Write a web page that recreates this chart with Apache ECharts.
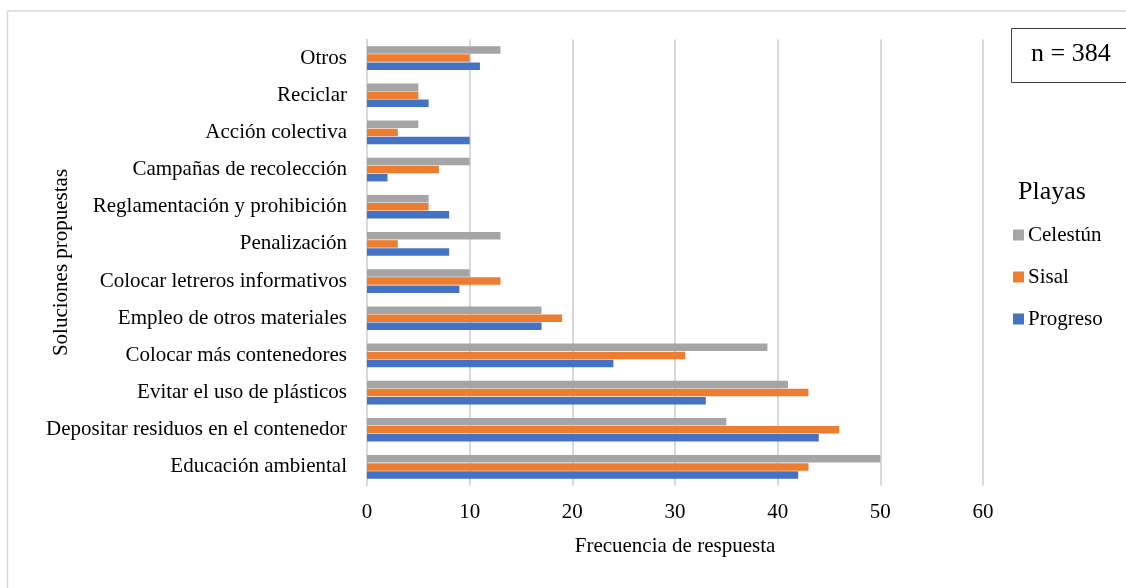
<!DOCTYPE html>
<html>
<head>
<meta charset="utf-8">
<script src="https://cdn.jsdelivr.net/npm/echarts@6/dist/echarts.min.js"></script>
<style>
  html, body { margin: 0; padding: 0; background: #ffffff; }
  #chart { width: 1126px; height: 588px; }
</style>
</head>
<body>
<div id="chart"></div>
<script>
// Proposed solutions, listed bottom to top on the category axis
const categories = [
  'Educación ambiental',
  'Depositar residuos en el contenedor',
  'Evitar el uso de plásticos',
  'Colocar más contenedores',
  'Empleo de otros materiales',
  'Colocar letreros informativos',
  'Penalización',
  'Reglamentación y prohibición',
  'Campañas de recolección',
  'Acción colectiva',
  'Reciclar',
  'Otros'
];

// Response counts per beach, same order as categories
const progreso = [42, 44, 33, 24, 17, 9, 8, 8, 2, 10, 6, 11];
const sisal    = [43, 46, 43, 31, 19, 13, 3, 6, 7, 3, 5, 10];
const celestun = [50, 35, 41, 39, 17, 10, 13, 6, 10, 5, 5, 13];

const xTicks = [0, 10, 20, 30, 40, 50, 60];

const FONT = '"Liberation Serif", "DejaVu Serif", serif';
const GRID_COLOR = '#d9d9d9';

const chart = echarts.init(document.getElementById('chart'), null, { renderer: 'canvas' });

function barSeries(name, data, color) {
  return {
    name: name,
    type: 'bar',
    data: data,
    barWidth: 7.5,
    barGap: '8%',
    itemStyle: { color: color },
    emphasis: { disabled: true },
    animation: false
  };
}

chart.setOption({
  backgroundColor: '#ffffff',
  animation: false,
  textStyle: { fontFamily: FONT, color: '#000000' },
  grid: { left: 367, right: 143, top: 39.5, bottom: 102.5, containLabel: false },
  xAxis: {
    type: 'value',
    min: xTicks[0],
    max: xTicks[xTicks.length - 1],
    interval: 10,
    name: 'Frecuencia de respuesta',
    nameLocation: 'middle',
    nameGap: 50,
    nameMoveOverlap: false,
    nameTextStyle: { fontFamily: FONT, fontSize: 21, color: '#000000' },
    axisLine: { show: false },
    axisTick: { show: false },
    axisLabel: { fontFamily: FONT, fontSize: 21, color: '#000000', margin: 16 },
    splitLine: { show: true, lineStyle: { color: GRID_COLOR, width: 2 } }
  },
  yAxis: {
    type: 'category',
    data: categories,
    name: 'Soluciones propuestas',
    nameLocation: 'middle',
    nameGap: 295,
    nameRotate: 90,
    nameMoveOverlap: false,
    nameTextStyle: { fontFamily: FONT, fontSize: 21, color: '#000000' },
    axisLine: { show: true, lineStyle: { color: GRID_COLOR, width: 2 } },
    axisTick: { show: false },
    axisLabel: { fontFamily: FONT, fontSize: 21, color: '#000000', margin: 20 },
    splitLine: { show: false }
  },
  legend: {
    orient: 'vertical',
    left: 1008,
    top: 219.5,
    itemWidth: 11,
    itemHeight: 11,
    itemGap: 21,
    icon: 'rect',
    selectedMode: false,
    data: ['Celestún', 'Sisal', 'Progreso'],
    textStyle: { fontFamily: FONT, fontSize: 21, color: '#000000', padding: [0, 0, 0, -1] }
  },
  graphic: [
    {
      type: 'rect',
      shape: { x: 7.5, y: 11, width: 1130, height: 590 },
      style: { fill: null, stroke: GRID_COLOR, lineWidth: 1.5 },
      silent: true,
      z: -10
    },
    {
      type: 'rect',
      shape: { x: 1011.5, y: 28.5, width: 130, height: 54 },
      style: { fill: '#ffffff', stroke: '#404040', lineWidth: 1 },
      silent: true
    },
    {
      type: 'text',
      left: 1031,
      top: 41,
      style: { text: 'n = 384', fontFamily: FONT, fontSize: 26, fill: '#000000' },
      silent: true
    },
    {
      type: 'text',
      left: 1018,
      top: 179,
      style: { text: 'Playas', fontFamily: FONT, fontSize: 26, fill: '#000000' },
      silent: true
    }
  ],
  // first series is drawn at the top of each category band
  series: [
    barSeries('Celestún', celestun, '#A5A5A5'),
    barSeries('Sisal', sisal, '#ED7D31'),
    barSeries('Progreso', progreso, '#4472C4')
  ]
});
</script>
</body>
</html>
